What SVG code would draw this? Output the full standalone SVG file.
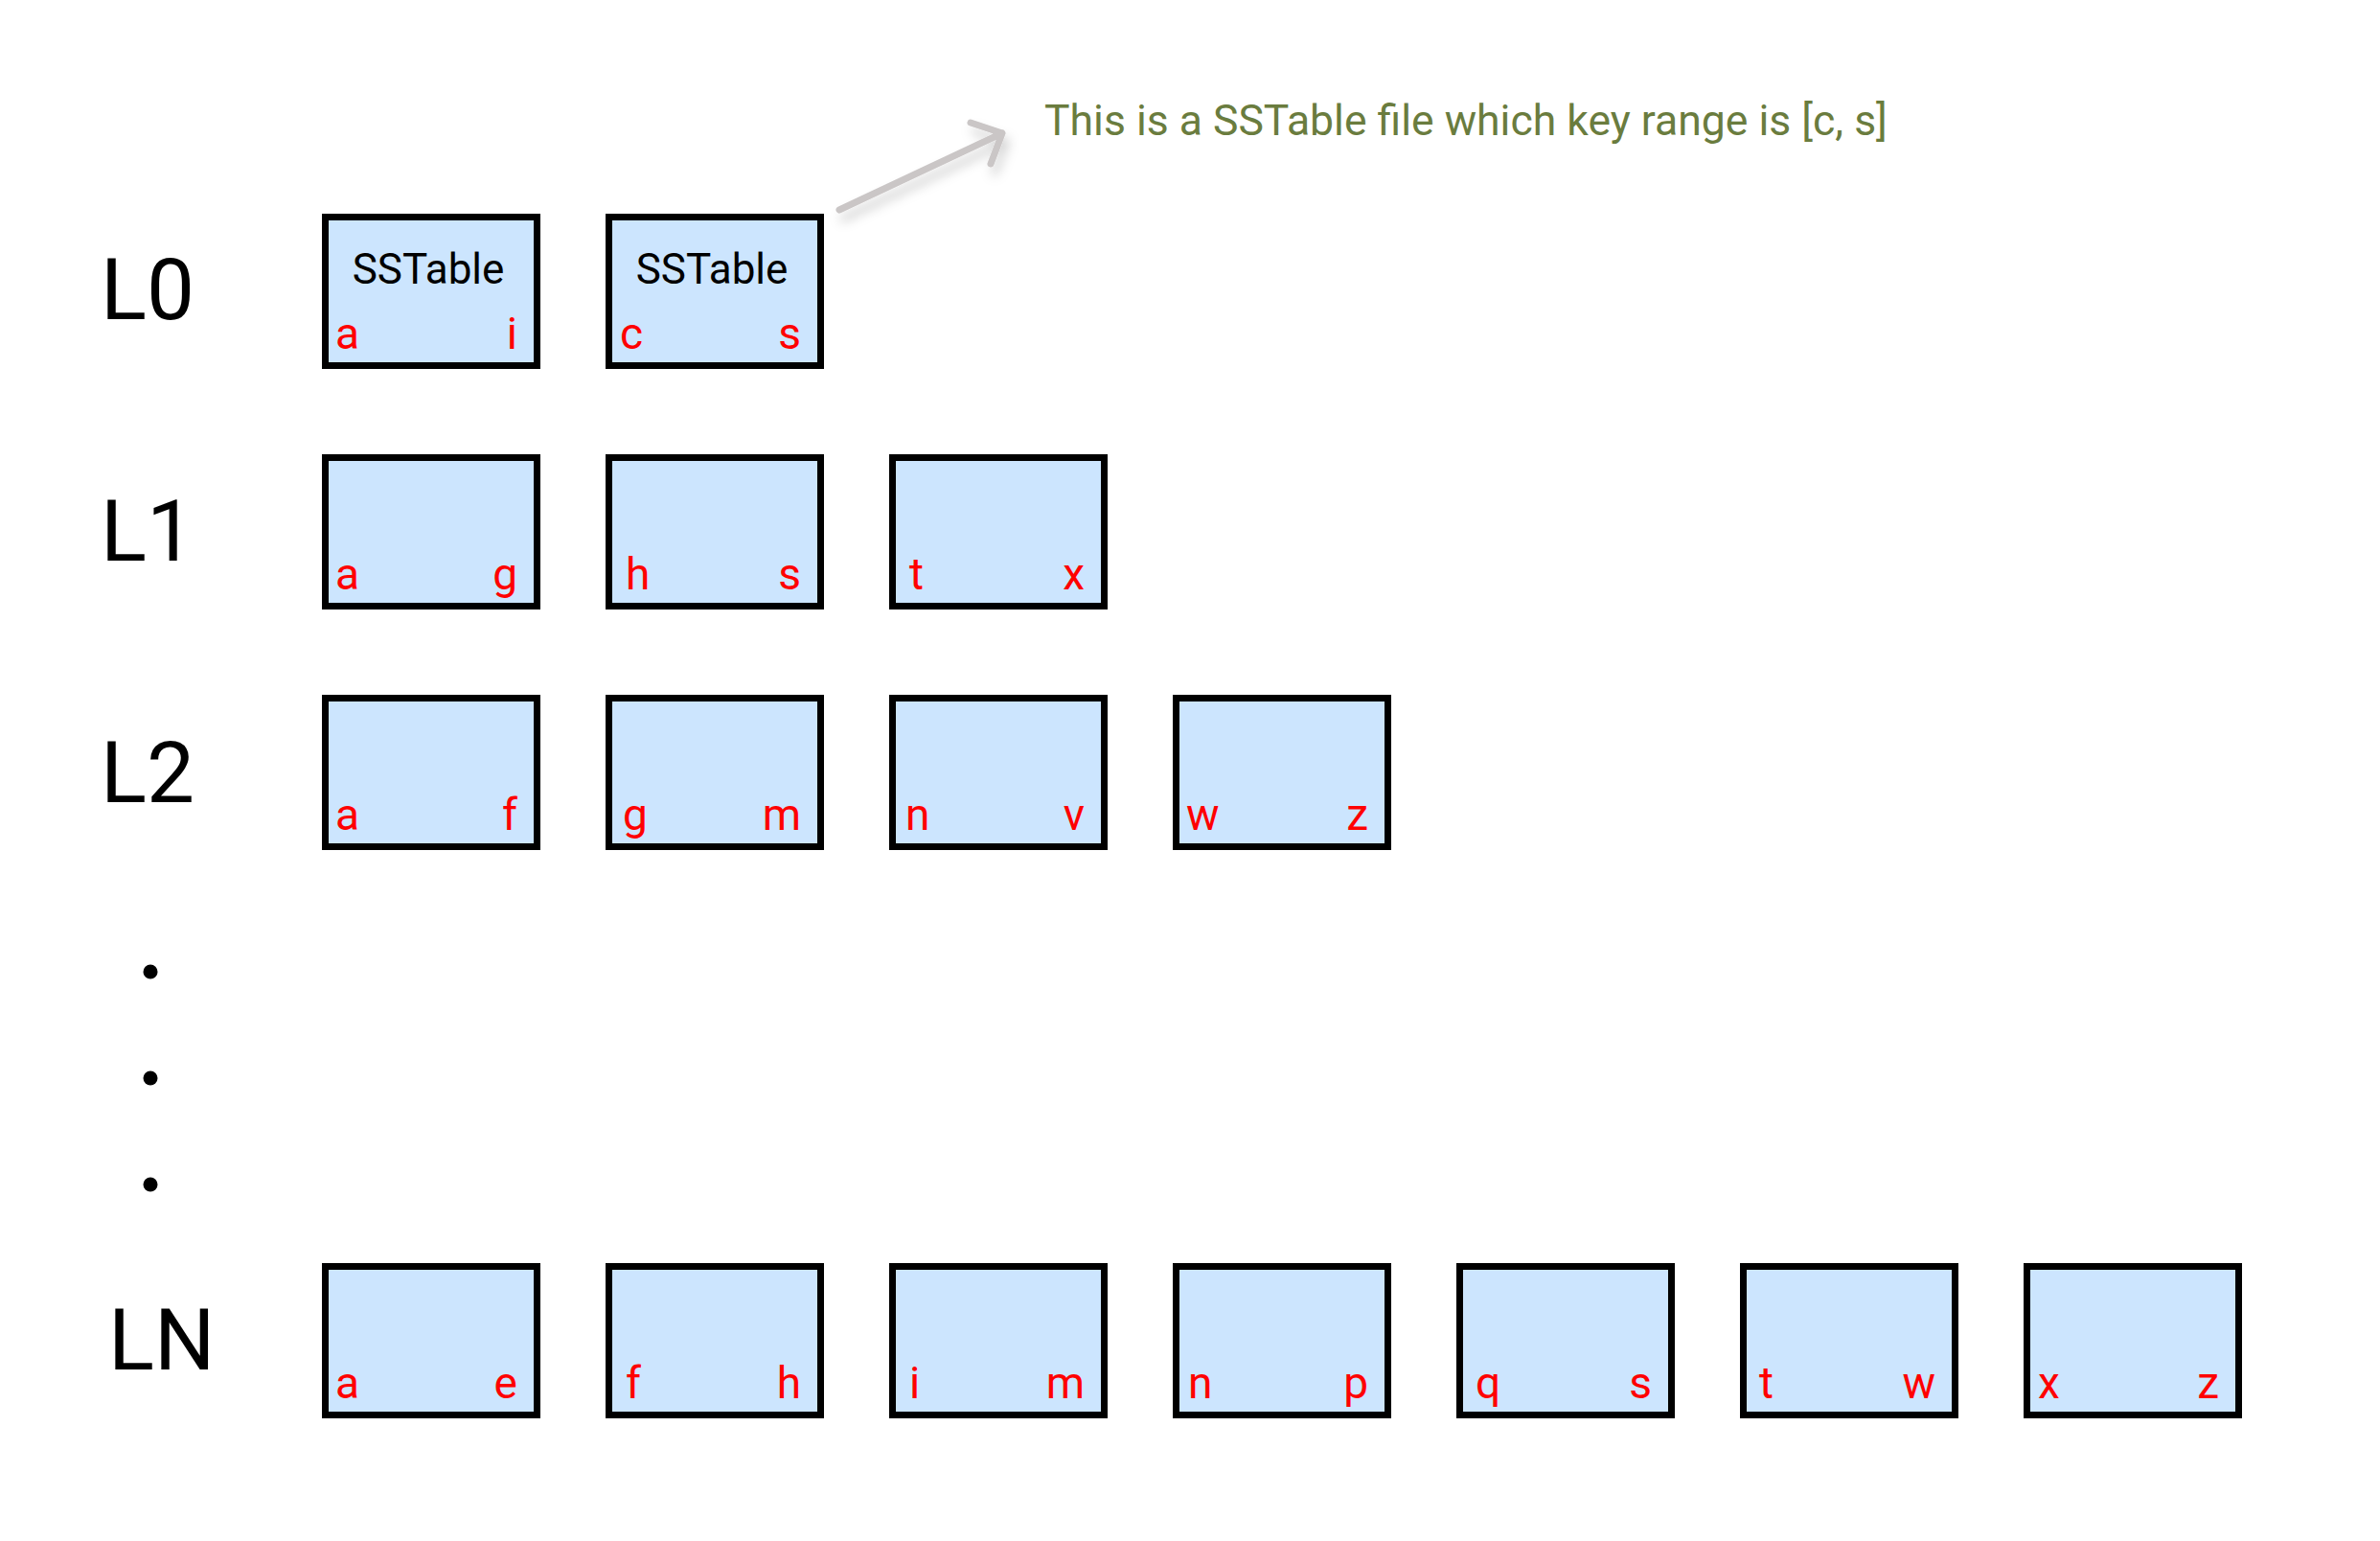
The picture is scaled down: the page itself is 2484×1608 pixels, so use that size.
<svg xmlns="http://www.w3.org/2000/svg" width="2484" height="1608" viewBox="0 0 2484 1608">
<style>
.box{fill:#cce5fe;stroke:#000;stroke-width:7}
.lvl{font-family:Roboto,"Liberation Sans",sans-serif;font-size:89px;fill:#000}
.k{font-family:Roboto,"Liberation Sans",sans-serif;font-size:46px;fill:#ff0000}
.ke{text-anchor:end}
.t{font-family:Roboto,"Liberation Sans",sans-serif;font-size:44px;fill:#000;text-anchor:middle}
.note{font-family:Roboto,"Liberation Sans",sans-serif;font-size:44.5px;fill:#6a7c3e}
.conn{fill:none;stroke:#cac6c6;stroke-width:7;stroke-linecap:round;stroke-linejoin:round}
</style>
<defs>
<filter id="sh" x="-20%" y="-40%" width="150%" height="200%">
<feDropShadow dx="4" dy="9" stdDeviation="6" flood-color="#000" flood-opacity="0.18"/>
</filter>
</defs>
<rect width="2484" height="1608" fill="#fff"/>
<g id="levels">
<text class="lvl" x="105" y="333">L0</text>
<text class="lvl" x="105" y="585">L1</text>
<text class="lvl" x="105" y="837">L2</text>
<text class="lvl" x="113" y="1429">LN</text>
<circle cx="157" cy="1014" r="7.5"/>
<circle cx="157" cy="1125" r="7.5"/>
<circle cx="157" cy="1236" r="7.5"/>
</g>
<g id="L0-1"><rect class="box" x="339.5" y="226.5" width="221" height="155"/><text class="t" x="447" y="296">SSTable</text><text class="k" x="350" y="364">a</text><text class="k ke" x="540" y="364">i</text></g>
<g id="L0-2"><rect class="box" x="635.5" y="226.5" width="221" height="155"/><text class="t" x="743" y="296">SSTable</text><text class="k" x="647" y="364">c</text><text class="k ke" x="836" y="364">s</text></g>
<g id="L1-1"><rect class="box" x="339.5" y="477.5" width="221" height="155"/><text class="k" x="350" y="615">a</text><text class="k ke" x="540" y="615">g</text></g>
<g id="L1-2"><rect class="box" x="635.5" y="477.5" width="221" height="155"/><text class="k" x="653" y="615">h</text><text class="k ke" x="836" y="615">s</text></g>
<g id="L1-3"><rect class="box" x="931.5" y="477.5" width="221" height="155"/><text class="k" x="949" y="615">t</text><text class="k ke" x="1132" y="615">x</text></g>
<g id="L2-1"><rect class="box" x="339.5" y="728.5" width="221" height="155"/><text class="k" x="350" y="866">a</text><text class="k ke" x="540" y="866">f</text></g>
<g id="L2-2"><rect class="box" x="635.5" y="728.5" width="221" height="155"/><text class="k" x="650" y="866">g</text><text class="k ke" x="836" y="866">m</text></g>
<g id="L2-3"><rect class="box" x="931.5" y="728.5" width="221" height="155"/><text class="k" x="945" y="866">n</text><text class="k ke" x="1132" y="866">v</text></g>
<g id="L2-4"><rect class="box" x="1227.5" y="728.5" width="221" height="155"/><text class="k" x="1238" y="866">w</text><text class="k ke" x="1428" y="866">z</text></g>
<g id="LN-1"><rect class="box" x="339.5" y="1321.5" width="221" height="155"/><text class="k" x="350" y="1459">a</text><text class="k ke" x="540" y="1459">e</text></g>
<g id="LN-2"><rect class="box" x="635.5" y="1321.5" width="221" height="155"/><text class="k" x="653" y="1459">f</text><text class="k ke" x="836" y="1459">h</text></g>
<g id="LN-3"><rect class="box" x="931.5" y="1321.5" width="221" height="155"/><text class="k" x="949" y="1459">i</text><text class="k ke" x="1132" y="1459">m</text></g>
<g id="LN-4"><rect class="box" x="1227.5" y="1321.5" width="221" height="155"/><text class="k" x="1240" y="1459">n</text><text class="k ke" x="1428" y="1459">p</text></g>
<g id="LN-5"><rect class="box" x="1523.5" y="1321.5" width="221" height="155"/><text class="k" x="1540" y="1459">q</text><text class="k ke" x="1724" y="1459">s</text></g>
<g id="LN-6"><rect class="box" x="1819.5" y="1321.5" width="221" height="155"/><text class="k" x="1836" y="1459">t</text><text class="k ke" x="2020" y="1459">w</text></g>
<g id="LN-7"><rect class="box" x="2115.5" y="1321.5" width="221" height="155"/><text class="k" x="2127" y="1459">x</text><text class="k ke" x="2316" y="1459">z</text></g>
<g id="note"><text class="note" x="1090" y="141">This is a SSTable file which key range is [c, s]</text></g>
<g id="connectors" filter="url(#sh)">
<path class="conn" d="M876 219 L1046 139 M1013 128 L1046 139 L1034 171"/>
</g>
</svg>
